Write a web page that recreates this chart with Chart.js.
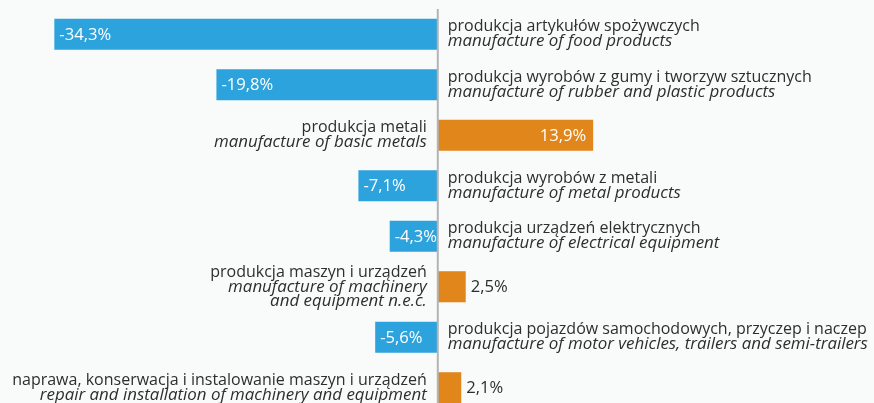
<!DOCTYPE html>
<html>
<head>
<meta charset="utf-8">
<script src="https://cdn.jsdelivr.net/npm/chart.js@4"></script>
<style>
  html, body { margin: 0; padding: 0; overflow: hidden; background: #f9fbfa; }
  #wrap { width: 874px; height: 413px; position: relative; }
</style>
</head>
<body>
<div id="wrap"><canvas id="dynChart"></canvas></div>
<script>
var categoriesPl = [
    'produkcja artykułów spożywczych',
    'produkcja wyrobów z gumy i tworzyw sztucznych',
    'produkcja metali',
    'produkcja wyrobów z metali',
    'produkcja urządzeń elektrycznych',
    'produkcja maszyn i urządzeń',
    'produkcja pojazdów samochodowych, przyczep i naczep',
    'naprawa, konserwacja i instalowanie maszyn i urządzeń'
]
var categoriesEn = [
    ['manufacture of food products'],
    ['manufacture of rubber and plastic products'],
    ['manufacture of basic metals'],
    ['manufacture of metal products'],
    ['manufacture of electrical equipment'],
    ['manufacture of machinery', 'and equipment n.e.c.'],
    ['manufacture of motor vehicles, trailers and semi-trailers'],
    ['repair and installation of machinery and equipment']
]
var values = [-34.3, -19.8, 13.9, -7.1, -4.3, 2.5, -5.6, 2.1]

var blue = '#2ca3dc'
var orange = '#e0861b'
var textColor = '#2e2e2e'
var catFont = '16px "Open Sans"'
var catFontIt = 'italic 16.9px "Open Sans"'
var valFont = '16.6px "Open Sans"'

function fmt(v) {
    return v.toFixed(1).replace('.', ',') + '%'
}

// zero line + labels drawn over the bars
var labelPlugin = {
    id: 'labelPlugin',
    afterDatasetsDraw: function (chart) {
        var ctx = chart.ctx
        var x0 = chart.scales.x.getPixelForValue(0)
        var area = chart.chartArea
        ctx.save()
        ctx.strokeStyle = '#b4b4b4'
        ctx.lineWidth = 2
        ctx.beginPath()
        ctx.moveTo(x0, area.top)
        ctx.lineTo(x0, chart.height)
        ctx.stroke()

        var bars = chart.getDatasetMeta(0).data
        bars.forEach(function (bar, i) {
            var v = values[i]
            var txt = fmt(v)
            ctx.font = valFont
            ctx.textBaseline = 'middle'
            var w = ctx.measureText(txt).width
            var barW = Math.abs(bar.x - bar.base)
            var inside = barW > w + 6
            if (v < 0) {
                ctx.fillStyle = '#ffffff'
                ctx.textAlign = 'left'
                ctx.fillText(txt, bar.x + 5, bar.y + 1)
            } else if (inside) {
                ctx.fillStyle = '#ffffff'
                ctx.textAlign = 'right'
                ctx.fillText(txt, bar.x - 7, bar.y + 1)
            } else {
                ctx.fillStyle = textColor
                ctx.textAlign = 'left'
                ctx.fillText(txt, bar.x + 5, bar.y + 1)
            }

            // category label on the opposite side of the zero line
            var lines = [categoriesPl[i]].concat(categoriesEn[i])
            var lh = 14.8
            var top = bar.y - (lines.length - 1) * lh / 2
            ctx.fillStyle = textColor
            ctx.textBaseline = 'middle'
            var lx = v < 0 ? x0 + 10 : x0 - 11
            ctx.textAlign = v < 0 ? 'left' : 'right'
            lines.forEach(function (ln, j) {
                ctx.font = j === 0 ? catFont : catFontIt
                ctx.fillText(ln, lx, top + j * lh)
            })
        })
        ctx.restore()
    }
}

var barCanvas = document.getElementById('dynChart').getContext('2d')
var barChart = new Chart(barCanvas, {
    type: 'bar',
    data: {
        labels: categoriesPl,
        datasets: [{
            data: values,
            backgroundColor: values.map(function (v) { return v < 0 ? blue : orange }),
            borderWidth: 0,
            barPercentage: 0.615,
            categoryPercentage: 1
        }]
    },
    options: {
        indexAxis: 'y',
        responsive: true,
        maintainAspectRatio: false,
        animation: false,
        layout: { padding: { top: 9, left: 0, right: 0, bottom: 0 } },
        plugins: {
            legend: { display: false },
            tooltip: { enabled: false }
        },
        scales: {
            x: { display: false, min: -39.16, max: 39.02 },
            y: { display: false }
        }
    },
    plugins: [labelPlugin]
})
</script>
</body>
</html>
